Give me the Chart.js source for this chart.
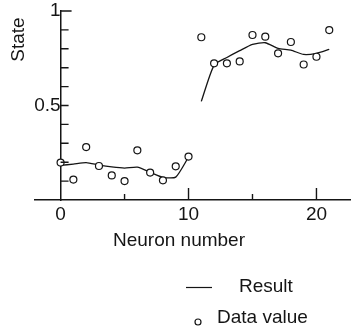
<!DOCTYPE html>
<html>
<head>
<meta charset="utf-8">
<script src="https://cdn.jsdelivr.net/npm/chart.js@4.4.1/dist/chart.umd.min.js"></script>
<style>
  html, body { margin: 0; padding: 0; background: #fff; }
  #wrap { width: 351px; height: 330px; }
</style>
</head>
<body>
<div id="wrap"><canvas id="chart"></canvas></div>
<script>
// values
const neurons = [0, 1, 2, 3, 4, 5, 6, 7, 8, 9, 10, 11, 12, 13, 14, 15, 16, 17, 18, 19, 20, 21];
const dataValues = [0.198, 0.108, 0.28, 0.18, 0.13, 0.10, 0.263, 0.145, 0.104, 0.178, 0.23,
                    0.861, 0.723, 0.723, 0.733, 0.873, 0.864, 0.776, 0.836, 0.717, 0.758, 0.899];
// result curve, drawn in two pieces (neurons 0-10 and 11-21)
const resultLow = [0.183, 0.19, 0.198, 0.185, 0.175, 0.169, 0.174, 0.147, 0.12, 0.121, 0.227];
const resultHigh = [0.522, 0.714, 0.754, 0.79, 0.823, 0.832, 0.802, 0.793, 0.77, 0.776, 0.797];

const xTicks = [0, 5, 10, 15, 20];
const xLabelled = [0, 10, 20];
const yTicks = [0.1, 0.2, 0.3, 0.4, 0.5, 0.6, 0.7, 0.8, 0.9, 1];
const yLabelled = [0.5, 1];

const ink = '#151515';
const font = '"Liberation Sans", Arial, Helvetica, sans-serif';

const lowPts = resultLow.map((v, i) => ({ x: neurons[i], y: v }));
const highPts = resultHigh.map((v, i) => ({ x: neurons[i + resultLow.length], y: v }));
const dotPts = dataValues.map((v, i) => ({ x: neurons[i], y: v }));

// ticks point inwards in the original, plus titles and legend placed by hand
const decorations = {
  id: 'decorations',
  afterDraw(chart) {
    const { ctx, scales: { x, y } } = chart;
    const x0 = x.getPixelForValue(0);
    const y0 = y.getPixelForValue(0);
    ctx.save();
    ctx.strokeStyle = ink;
    ctx.lineWidth = 1.4;
    ctx.beginPath();
    yTicks.forEach(v => {
      const py = y.getPixelForValue(v);
      ctx.moveTo(x0, py);
      ctx.lineTo(x0 + (v === 1 ? 11 : 8), py);
    });
    xTicks.forEach(v => {
      if (v === 0) return;
      const px = x.getPixelForValue(v);
      ctx.moveTo(px, y0);
      ctx.lineTo(px, y0 - (v % 10 === 0 ? 12 : 6));
    });
    ctx.stroke();

    ctx.fillStyle = ink;
    ctx.font = '19px ' + font;
    ctx.textBaseline = 'alphabetic';
    ctx.textAlign = 'center';
    ctx.fillText('Neuron number', 179, 246);

    ctx.save();
    ctx.translate(24, 39.5);
    ctx.rotate(-Math.PI / 2);
    ctx.fillText('State', 0, 0);
    ctx.restore();

    // legend
    ctx.textAlign = 'left';
    ctx.lineWidth = 1.2;
    ctx.beginPath();
    ctx.moveTo(186, 287.5);
    ctx.lineTo(212, 287.5);
    ctx.stroke();
    ctx.fillText('Result', 239, 291.5);
    ctx.beginPath();
    ctx.arc(198, 322, 3, 0, Math.PI * 2);
    ctx.fillStyle = '#fff';
    ctx.fill();
    ctx.stroke();
    ctx.fillStyle = ink;
    ctx.fillText('Data value', 217, 323);
    ctx.restore();
  }
};

const lineStyle = {
  type: 'line',
  borderColor: ink,
  borderWidth: 1.3,
  pointRadius: 0,
  tension: 0.2,
  fill: false,
  order: 2
};

new Chart(document.getElementById('chart'), {
  type: 'scatter',
  data: {
    datasets: [
      { ...lineStyle, label: 'Result', data: lowPts, showLine: true },
      { ...lineStyle, label: 'Result', data: highPts, showLine: true },
      {
        label: 'Data value',
        data: dotPts,
        pointStyle: 'circle',
        pointRadius: 3.5,
        pointBorderWidth: 1.2,
        pointBorderColor: ink,
        pointBackgroundColor: '#fff',
        showLine: false,
        order: 1
      }
    ]
  },
  options: {
    responsive: true,
    maintainAspectRatio: false,
    animation: false,
    layout: { autoPadding: false, padding: { left: 35, right: 0, top: 11, bottom: 0 } },
    plugins: { legend: { display: false }, tooltip: { enabled: false } },
    scales: {
      x: {
        type: 'linear',
        min: -2,
        max: 22.7,
        position: 'bottom',
        afterFit: s => { s.height = 130; s.paddingLeft = 0; s.paddingRight = 0; },
        afterBuildTicks: s => { s.ticks = xTicks.map(v => ({ value: v })); },
        grid: { display: false, drawTicks: false },
        border: { display: true, color: ink, width: 1.5 },
        ticks: {
          autoSkip: false,
          maxRotation: 0,
          padding: 3,
          color: ink,
          font: { family: font, size: 19 },
          callback: v => xLabelled.includes(v) ? String(v) : ''
        }
      },
      y: {
        type: 'linear',
        min: 0,
        max: 1,
        position: { x: 0 },
        afterFit: s => { s.paddingTop = 0; s.paddingBottom = 0; },
        afterBuildTicks: s => { s.ticks = yTicks.map(v => ({ value: v })); },
        grid: { display: false, drawTicks: false },
        border: { display: true, color: ink, width: 1.5 },
        ticks: {
          autoSkip: false,
          padding: 9,
          color: ink,
          font: { family: font, size: 19 },
          callback: v => yLabelled.includes(v) ? String(v) : ''
        }
      }
    }
  },
  plugins: [decorations]
});
</script>
</body>
</html>
